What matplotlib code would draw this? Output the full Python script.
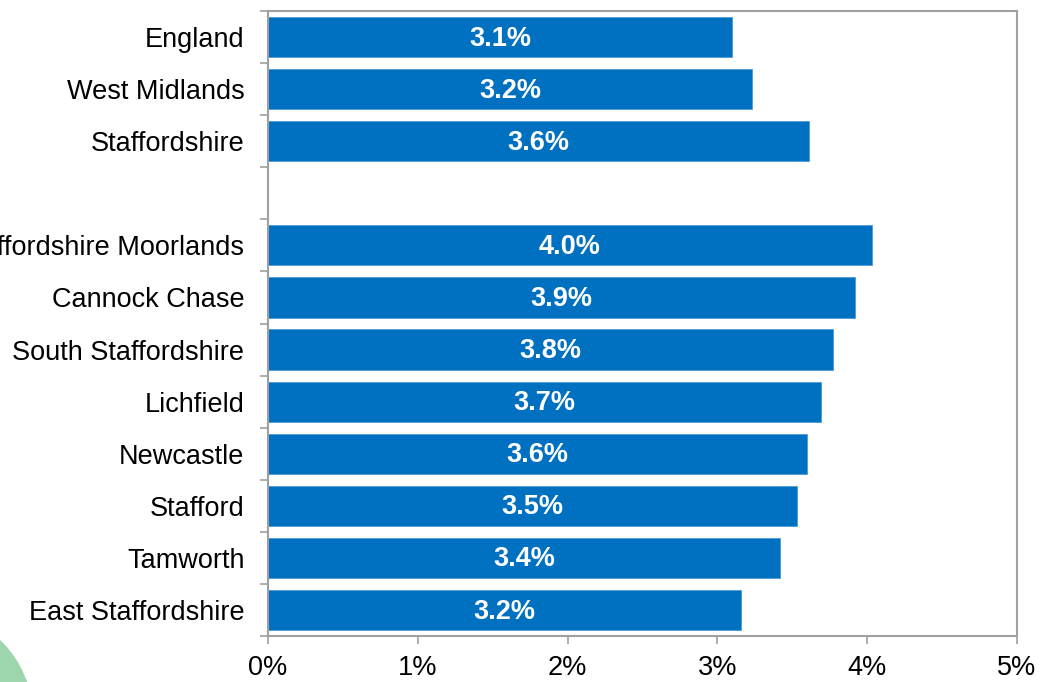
import matplotlib
matplotlib.use("Agg")
import matplotlib.pyplot as plt
from matplotlib.patches import Circle

# rows top to bottom; None marks the empty spacer row
areas = [
    "England", "West Midlands", "Staffordshire", "",
    "Staffordshire Moorlands", "Cannock Chase", "South Staffordshire",
    "Lichfield", "Newcastle", "Stafford", "Tamworth", "East Staffordshire",
]
rates = [3.10, 3.23, 3.61, None, 4.03, 3.92, 3.77, 3.69, 3.60, 3.53, 3.42, 3.16]
x_ticks = [0, 1, 2, 3, 4, 5]

BLUE = "#0070C0"
GREY = "#A0A0A0"

plt.rcParams["font.family"] = ["Liberation Sans", "DejaVu Sans"]

fig = plt.figure(figsize=(10.4, 6.82), dpi=100)
ax = fig.add_axes([0.2577, 0.0674, 0.7202, 0.9165])

# faint green decoration bottom-left
fig.patches.append(Circle((-0.705, -0.33), 1.03, transform=fig.dpi_scale_trans,
                          facecolor="#9dd6ad", edgecolor="none", zorder=0))

for i, v in enumerate(rates):
    if v is None:
        continue
    ax.barh(i, v, height=0.77, color=BLUE, edgecolor="#4f9ad6", linewidth=0.6)
    ax.text(v / 2, i + 0.03, f"{v:.1f}%", color="white", fontsize=19.5,
            fontweight="bold", ha="center", va="center")

n = len(areas)
ax.set_ylim(n - 0.5, -0.5)
ax.set_xlim(0, 5)

ax.set_yticks([k - 0.5 for k in range(n + 1)])
ax.set_yticklabels([])
ax.set_yticks(range(n), minor=True)
ax.set_yticklabels(areas, minor=True, fontsize=19.5)
ax.tick_params(axis="y", which="minor", length=0, pad=17)
ax.tick_params(axis="y", which="major", length=6, width=1.2, color=GREY)

ax.set_xticks(x_ticks)
ax.set_xticklabels([f"{t}%" for t in x_ticks], fontsize=19.5)
ax.tick_params(axis="x", length=6, width=1.2, color=GREY, pad=7.5)

for s in ax.spines.values():
    s.set_color(GREY)
    s.set_linewidth(1.5)

fig.savefig("out.png", dpi=100)
